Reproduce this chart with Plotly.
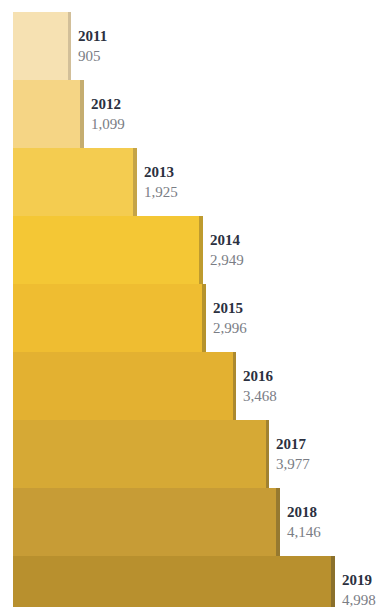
import plotly.graph_objects as go

years = ["2011", "2012", "2013", "2014", "2015", "2016", "2017", "2018", "2019"]
values = [905, 1099, 1925, 2949, 2996, 3468, 3977, 4146, 4998]
bar_colors = ["#F6E1B2", "#F5D585", "#F4CC50", "#F4C735", "#EFBD31",
              "#E3B131", "#D6A935", "#C79C36", "#B8902E"]
shadow_colors = ["#C9B792", "#B9A26A", "#B99A45", "#B0902E", "#A8882C",
                 "#9E8030", "#94782F", "#8A7030", "#80682A"]

SHADOW = 55  # shadow width in data units (visual style)

fig = go.Figure()
fig.add_trace(go.Bar(
    y=years, x=values, orientation="h",
    marker=dict(color=bar_colors, line=dict(width=0)),
    hoverinfo="skip", showlegend=False,
))
fig.add_trace(go.Bar(
    y=years, x=[SHADOW] * len(values), base=[v - SHADOW for v in values],
    orientation="h",
    marker=dict(color=shadow_colors, line=dict(width=0), opacity=0.8),
    hoverinfo="skip", showlegend=False,
))

annotations = []
for i, (yr, v) in enumerate(zip(years, values)):
    annotations.append(dict(
        x=v, y=i, xref="x", yref="y",
        text=f"<b>{yr}</b><br><span style='color:#7a7d85'>{v:,}</span>",
        showarrow=False, xanchor="left", yanchor="middle", xshift=5,
        align="left",
        font=dict(family="Liberation Serif", size=15, color="#2b3040"),
    ))

fig.update_layout(
    width=382, height=607,
    margin=dict(l=13, r=0, t=12, b=0),
    paper_bgcolor="white", plot_bgcolor="white",
    barmode="overlay", bargap=0,
    xaxis=dict(range=[0, 5730], visible=False, fixedrange=True),
    yaxis=dict(range=[8.25, -0.5], visible=False, type="category", fixedrange=True),
    annotations=annotations,
    showlegend=False,
)

fig.write_html("out.html", config={"displayModeBar": False})
